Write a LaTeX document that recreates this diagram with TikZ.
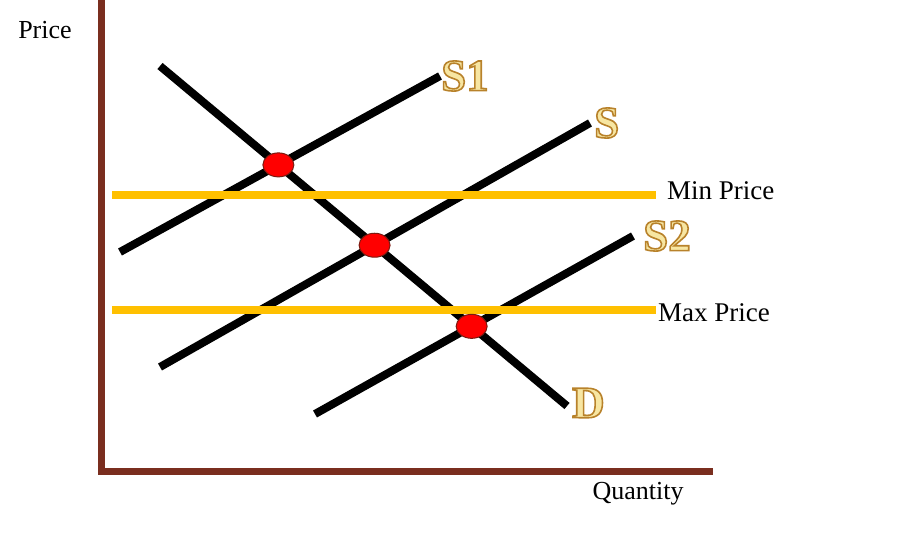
\documentclass[tikz,border=0pt]{standalone}
\usepackage{fontspec}
\setmainfont{Liberation Serif}
\usetikzlibrary{positioning,shapes.geometric}

\definecolor{axisbrown}{HTML}{7A2E1F}
\definecolor{bargold}{HTML}{FFC000}
\definecolor{labelgold}{HTML}{F7E6A2}
\definecolor{dotedge}{HTML}{7A1A10}

% gold letters with a brown outline
\newcommand{\goldletters}[1]{\textcolor{labelgold}{\special{pdf:code 2 Tr 1.6 w 0.72 0.51 0.17 RG}#1\special{pdf:code 0 Tr}}}

\begin{document}
\begin{tikzpicture}[x=1pt, y=-1pt,
    axisline/.style={line width=7pt, axisbrown},
    curve/.style={line width=8pt, black},
    pricebar/.style={line width=8pt, bargold},
    eqdot/.style={ellipse, draw=dotedge, line width=1pt, fill=red, inner sep=0pt, minimum width=31pt, minimum height=24pt},
    curvelabel/.style={inner sep=0pt, font=\fontsize{45}{45}\selectfont\bfseries},
    axislabel/.style={inner sep=0pt, font=\fontsize{26}{26}\selectfont},
    barlabel/.style={inner sep=0pt, anchor=west, font=\fontsize{27}{27}\selectfont}]
    \useasboundingbox (0,0) rectangle (900,540);

    % Axes
    \coordinate (origin) at (101,471);
    \coordinate (ytop) at (101,0);
    \coordinate (xend) at (713,471);
    \draw[axisline] (ytop) -- (101,474);
    \draw[axisline] (98,471) -- (xend);
    \node[axislabel] (price) at (45,30) {Price};
    \node[axislabel] (quantity) at (638,494) {Quantity};

    % Demand and supply curves
    \coordinate (d0) at (160,66);   \coordinate (d1) at (567,406);
    \coordinate (s10) at (120,252); \coordinate (s11) at (440,76);
    \coordinate (s0) at (160,367);  \coordinate (s1) at (590,123);
    \coordinate (s20) at (315,414); \coordinate (s21) at (633,236);
    \draw[curve] (d0) -- (d1);
    \draw[curve] (s10) -- (s11);
    \draw[curve] (s0) -- (s1);
    \draw[curve] (s20) -- (s21);

    % Price floor and ceiling
    \coordinate (min0) at (112,195); \coordinate (min1) at (656,195);
    \coordinate (max0) at (112,310); \coordinate (max1) at (656,310);
    \draw[pricebar] (min0) -- (min1);
    \draw[pricebar] (max0) -- (max1);
    \node[barlabel] (minlabel) at (667,191) {Min Price};
    \node[barlabel] (maxlabel) at (658,313) {Max Price};

    % Equilibria
    \node[eqdot] (eq1) at (intersection of d0--d1 and s10--s11) {};
    \node[eqdot] (eq) at (intersection of d0--d1 and s0--s1) {};
    \node[eqdot] (eq2) at (intersection of d0--d1 and s20--s21) {};

    % Curve labels
    \node[curvelabel, anchor=west, right=1pt of s11] (s1label) {\goldletters{S1}};
    \node[curvelabel, anchor=west, right=4pt of s1] (slabel) {\goldletters{S}};
    \node[curvelabel, anchor=west, right=10pt of s21] (s2label) {\goldletters{S2}};
    \node[curvelabel, anchor=west, right=5pt of d1, yshift=3pt] (dlabel) {\goldletters{D}};
\end{tikzpicture}
\end{document}
